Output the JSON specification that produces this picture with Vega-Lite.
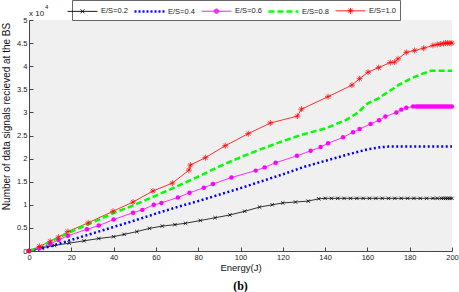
{
  "$schema": "https://vega.github.io/schema/vega-lite/v6.json",
  "width": 423,
  "height": 231,
  "autosize": "none",
  "padding": {"left": 29, "top": 20, "right": 7, "bottom": 41},
  "background": "white",
  "config": {"view": {"fill": "#f0f0f0", "stroke": null}, "font": "Liberation Sans"},
  "title": {"text": "(b)", "orient": "bottom", "font": "Liberation Serif", "fontWeight": "bold", "fontSize": 12, "color": "#000", "offset": 9},
  "datasets": {
    "d": [
      {"series": "E/S=0.2", "energy": 0, "signals": 0},
      {"series": "E/S=0.2", "energy": 6, "signals": 700},
      {"series": "E/S=0.2", "energy": 12, "signals": 1200},
      {"series": "E/S=0.2", "energy": 19, "signals": 1700},
      {"series": "E/S=0.2", "energy": 26, "signals": 2200},
      {"series": "E/S=0.2", "energy": 33, "signals": 2700},
      {"series": "E/S=0.2", "energy": 40, "signals": 3100},
      {"series": "E/S=0.2", "energy": 45, "signals": 3600},
      {"series": "E/S=0.2", "energy": 51, "signals": 4200},
      {"series": "E/S=0.2", "energy": 57, "signals": 4900},
      {"series": "E/S=0.2", "energy": 63, "signals": 5400},
      {"series": "E/S=0.2", "energy": 69, "signals": 5700},
      {"series": "E/S=0.2", "energy": 74, "signals": 6000},
      {"series": "E/S=0.2", "energy": 81, "signals": 6600},
      {"series": "E/S=0.2", "energy": 88, "signals": 7200},
      {"series": "E/S=0.2", "energy": 95, "signals": 7800},
      {"series": "E/S=0.2", "energy": 102, "signals": 8600},
      {"series": "E/S=0.2", "energy": 109, "signals": 9500},
      {"series": "E/S=0.2", "energy": 115, "signals": 10000},
      {"series": "E/S=0.2", "energy": 120, "signals": 10400},
      {"series": "E/S=0.2", "energy": 126, "signals": 10600},
      {"series": "E/S=0.2", "energy": 132, "signals": 10800},
      {"series": "E/S=0.2", "energy": 137, "signals": 11300},
      {"series": "E/S=0.2", "energy": 140, "signals": 11400},
      {"series": "E/S=0.2", "energy": 143, "signals": 11400},
      {"series": "E/S=0.2", "energy": 146, "signals": 11400},
      {"series": "E/S=0.2", "energy": 149, "signals": 11400},
      {"series": "E/S=0.2", "energy": 152, "signals": 11400},
      {"series": "E/S=0.2", "energy": 155, "signals": 11400},
      {"series": "E/S=0.2", "energy": 158, "signals": 11400},
      {"series": "E/S=0.2", "energy": 161, "signals": 11400},
      {"series": "E/S=0.2", "energy": 164, "signals": 11400},
      {"series": "E/S=0.2", "energy": 167, "signals": 11400},
      {"series": "E/S=0.2", "energy": 170, "signals": 11400},
      {"series": "E/S=0.2", "energy": 173, "signals": 11400},
      {"series": "E/S=0.2", "energy": 176, "signals": 11400},
      {"series": "E/S=0.2", "energy": 179, "signals": 11400},
      {"series": "E/S=0.2", "energy": 182, "signals": 11400},
      {"series": "E/S=0.2", "energy": 185, "signals": 11400},
      {"series": "E/S=0.2", "energy": 188, "signals": 11400},
      {"series": "E/S=0.2", "energy": 191, "signals": 11400},
      {"series": "E/S=0.2", "energy": 193, "signals": 11400},
      {"series": "E/S=0.2", "energy": 195, "signals": 11400},
      {"series": "E/S=0.2", "energy": 196, "signals": 11400},
      {"series": "E/S=0.2", "energy": 197, "signals": 11400},
      {"series": "E/S=0.2", "energy": 198, "signals": 11400},
      {"series": "E/S=0.2", "energy": 199, "signals": 11400},
      {"series": "E/S=0.2", "energy": 200, "signals": 11400},

      {"series": "E/S=0.4", "energy": 0, "signals": 0},
      {"series": "E/S=0.4", "energy": 5, "signals": 400},
      {"series": "E/S=0.4", "energy": 10, "signals": 1000},
      {"series": "E/S=0.4", "energy": 20, "signals": 2400},
      {"series": "E/S=0.4", "energy": 30, "signals": 3800},
      {"series": "E/S=0.4", "energy": 40, "signals": 5200},
      {"series": "E/S=0.4", "energy": 50, "signals": 6600},
      {"series": "E/S=0.4", "energy": 60, "signals": 8100},
      {"series": "E/S=0.4", "energy": 70, "signals": 9500},
      {"series": "E/S=0.4", "energy": 80, "signals": 10800},
      {"series": "E/S=0.4", "energy": 90, "signals": 12200},
      {"series": "E/S=0.4", "energy": 100, "signals": 13600},
      {"series": "E/S=0.4", "energy": 110, "signals": 15100},
      {"series": "E/S=0.4", "energy": 120, "signals": 16600},
      {"series": "E/S=0.4", "energy": 130, "signals": 18200},
      {"series": "E/S=0.4", "energy": 140, "signals": 19500},
      {"series": "E/S=0.4", "energy": 150, "signals": 20800},
      {"series": "E/S=0.4", "energy": 160, "signals": 22000},
      {"series": "E/S=0.4", "energy": 165, "signals": 22400},
      {"series": "E/S=0.4", "energy": 170, "signals": 22600},
      {"series": "E/S=0.4", "energy": 180, "signals": 22600},
      {"series": "E/S=0.4", "energy": 190, "signals": 22600},
      {"series": "E/S=0.4", "energy": 200, "signals": 22600},

      {"series": "E/S=0.6", "energy": 0, "signals": 0},
      {"series": "E/S=0.6", "energy": 5, "signals": 600},
      {"series": "E/S=0.6", "energy": 10, "signals": 1500},
      {"series": "E/S=0.6", "energy": 14, "signals": 2400},
      {"series": "E/S=0.6", "energy": 18.4, "signals": 3300},
      {"series": "E/S=0.6", "energy": 27.4, "signals": 4700},
      {"series": "E/S=0.6", "energy": 33, "signals": 5500},
      {"series": "E/S=0.6", "energy": 40, "signals": 6800},
      {"series": "E/S=0.6", "energy": 49.2, "signals": 8300},
      {"series": "E/S=0.6", "energy": 53.6, "signals": 8900},
      {"series": "E/S=0.6", "energy": 59, "signals": 10000},
      {"series": "E/S=0.6", "energy": 62.6, "signals": 10400},
      {"series": "E/S=0.6", "energy": 70.4, "signals": 11600},
      {"series": "E/S=0.6", "energy": 75.9, "signals": 12600},
      {"series": "E/S=0.6", "energy": 82.7, "signals": 13700},
      {"series": "E/S=0.6", "energy": 87, "signals": 14500},
      {"series": "E/S=0.6", "energy": 95.7, "signals": 15900},
      {"series": "E/S=0.6", "energy": 107.2, "signals": 17400},
      {"series": "E/S=0.6", "energy": 111.4, "signals": 18100},
      {"series": "E/S=0.6", "energy": 116.6, "signals": 19100},
      {"series": "E/S=0.6", "energy": 126.7, "signals": 20600},
      {"series": "E/S=0.6", "energy": 133.2, "signals": 21700},
      {"series": "E/S=0.6", "energy": 137.9, "signals": 22500},
      {"series": "E/S=0.6", "energy": 141.4, "signals": 23300},
      {"series": "E/S=0.6", "energy": 148.5, "signals": 24600},
      {"series": "E/S=0.6", "energy": 153.2, "signals": 25700},
      {"series": "E/S=0.6", "energy": 156.3, "signals": 26400},
      {"series": "E/S=0.6", "energy": 161.5, "signals": 27500},
      {"series": "E/S=0.6", "energy": 165.5, "signals": 28300},
      {"series": "E/S=0.6", "energy": 168.5, "signals": 29100},
      {"series": "E/S=0.6", "energy": 173.7, "signals": 30000},
      {"series": "E/S=0.6", "energy": 176, "signals": 30600},
      {"series": "E/S=0.6", "energy": 178.4, "signals": 31000},
      {"series": "E/S=0.6", "energy": 181.6, "signals": 31300},
      {"series": "E/S=0.6", "energy": 183, "signals": 31300},
      {"series": "E/S=0.6", "energy": 184, "signals": 31300},
      {"series": "E/S=0.6", "energy": 185, "signals": 31300},
      {"series": "E/S=0.6", "energy": 186, "signals": 31300},
      {"series": "E/S=0.6", "energy": 187, "signals": 31300},
      {"series": "E/S=0.6", "energy": 188, "signals": 31300},
      {"series": "E/S=0.6", "energy": 189, "signals": 31300},
      {"series": "E/S=0.6", "energy": 190, "signals": 31300},
      {"series": "E/S=0.6", "energy": 191, "signals": 31300},
      {"series": "E/S=0.6", "energy": 192, "signals": 31300},
      {"series": "E/S=0.6", "energy": 193, "signals": 31300},
      {"series": "E/S=0.6", "energy": 194, "signals": 31300},
      {"series": "E/S=0.6", "energy": 195, "signals": 31300},
      {"series": "E/S=0.6", "energy": 196, "signals": 31300},
      {"series": "E/S=0.6", "energy": 197, "signals": 31300},
      {"series": "E/S=0.6", "energy": 198, "signals": 31300},
      {"series": "E/S=0.6", "energy": 199, "signals": 31300},
      {"series": "E/S=0.6", "energy": 200, "signals": 31300},

      {"series": "E/S=0.8", "energy": 0, "signals": 0},
      {"series": "E/S=0.8", "energy": 5, "signals": 800},
      {"series": "E/S=0.8", "energy": 10, "signals": 2000},
      {"series": "E/S=0.8", "energy": 20, "signals": 4200},
      {"series": "E/S=0.8", "energy": 30, "signals": 6200},
      {"series": "E/S=0.8", "energy": 40, "signals": 8200},
      {"series": "E/S=0.8", "energy": 50, "signals": 10000},
      {"series": "E/S=0.8", "energy": 60, "signals": 12000},
      {"series": "E/S=0.8", "energy": 70, "signals": 14000},
      {"series": "E/S=0.8", "energy": 80, "signals": 16100},
      {"series": "E/S=0.8", "energy": 90, "signals": 18300},
      {"series": "E/S=0.8", "energy": 100, "signals": 20300},
      {"series": "E/S=0.8", "energy": 110, "signals": 22100},
      {"series": "E/S=0.8", "energy": 120, "signals": 23800},
      {"series": "E/S=0.8", "energy": 130, "signals": 25300},
      {"series": "E/S=0.8", "energy": 140, "signals": 26500},
      {"series": "E/S=0.8", "energy": 150, "signals": 28400},
      {"series": "E/S=0.8", "energy": 155, "signals": 29800},
      {"series": "E/S=0.8", "energy": 160, "signals": 31900},
      {"series": "E/S=0.8", "energy": 165, "signals": 33000},
      {"series": "E/S=0.8", "energy": 170, "signals": 34500},
      {"series": "E/S=0.8", "energy": 175, "signals": 36000},
      {"series": "E/S=0.8", "energy": 180, "signals": 37200},
      {"series": "E/S=0.8", "energy": 185, "signals": 38200},
      {"series": "E/S=0.8", "energy": 190, "signals": 39000},
      {"series": "E/S=0.8", "energy": 200, "signals": 39000},

      {"series": "E/S=1.0", "energy": 0, "signals": 0},
      {"series": "E/S=1.0", "energy": 5, "signals": 1000},
      {"series": "E/S=1.0", "energy": 10, "signals": 2100},
      {"series": "E/S=1.0", "energy": 14, "signals": 3000},
      {"series": "E/S=1.0", "energy": 18.4, "signals": 4200},
      {"series": "E/S=1.0", "energy": 28, "signals": 6100},
      {"series": "E/S=1.0", "energy": 39.7, "signals": 8600},
      {"series": "E/S=1.0", "energy": 49.2, "signals": 10600},
      {"series": "E/S=1.0", "energy": 58.6, "signals": 13000},
      {"series": "E/S=1.0", "energy": 67.8, "signals": 14700},
      {"series": "E/S=1.0", "energy": 75.6, "signals": 17500},
      {"series": "E/S=1.0", "energy": 76.3, "signals": 18600},
      {"series": "E/S=1.0", "energy": 83.4, "signals": 20200},
      {"series": "E/S=1.0", "energy": 92.8, "signals": 22800},
      {"series": "E/S=1.0", "energy": 103.7, "signals": 25400},
      {"series": "E/S=1.0", "energy": 114.1, "signals": 27700},
      {"series": "E/S=1.0", "energy": 126.9, "signals": 29200},
      {"series": "E/S=1.0", "energy": 128.8, "signals": 30700},
      {"series": "E/S=1.0", "energy": 141.4, "signals": 33400},
      {"series": "E/S=1.0", "energy": 152.7, "signals": 35900},
      {"series": "E/S=1.0", "energy": 156.3, "signals": 37300},
      {"series": "E/S=1.0", "energy": 160.3, "signals": 38700},
      {"series": "E/S=1.0", "energy": 165.3, "signals": 39700},
      {"series": "E/S=1.0", "energy": 170.8, "signals": 40800},
      {"series": "E/S=1.0", "energy": 172.9, "signals": 40900},
      {"series": "E/S=1.0", "energy": 174.5, "signals": 41600},
      {"series": "E/S=1.0", "energy": 178.4, "signals": 43000},
      {"series": "E/S=1.0", "energy": 182.3, "signals": 43400},
      {"series": "E/S=1.0", "energy": 186.6, "signals": 43900},
      {"series": "E/S=1.0", "energy": 191, "signals": 44500},
      {"series": "E/S=1.0", "energy": 193, "signals": 44700},
      {"series": "E/S=1.0", "energy": 194.5, "signals": 44800},
      {"series": "E/S=1.0", "energy": 196, "signals": 44900},
      {"series": "E/S=1.0", "energy": 197, "signals": 45000},
      {"series": "E/S=1.0", "energy": 198, "signals": 45000},
      {"series": "E/S=1.0", "energy": 199, "signals": 45000},
      {"series": "E/S=1.0", "energy": 200, "signals": 45000}
    ],
    "note": [{"energy": 0, "signals": 50000}]
  },
  "data": {"name": "d"},
  "encoding": {
    "x": {
      "field": "energy", "type": "quantitative",
      "scale": {"domain": [0, 200], "nice": false},
      "axis": {
        "values": [0, 20, 40, 60, 80, 100, 120, 140, 160, 180, 200],
        "tickSize": -4, "labelPadding": 6, "labelFontSize": 7.5, "labelColor": "#222",
        "tickColor": "#444", "domainColor": "#444", "grid": false, "labelFlush": false,
        "title": "Energy(J)", "titleFontSize": 9.5, "titleFontWeight": "normal", "titleColor": "#111", "titlePadding": 2
      }
    },
    "y": {
      "field": "signals", "type": "quantitative",
      "scale": {"domain": [0, 50000], "nice": false},
      "axis": {
        "values": [0, 5000, 10000, 15000, 20000, 25000, 30000, 35000, 40000, 45000, 50000],
        "labelExpr": "datum.value / 10000",
        "tickSize": -4, "labelPadding": 6, "labelFontSize": 7.5, "labelColor": "#222",
        "tickColor": "#444", "domainColor": "#444", "grid": false, "labelFlush": false,
        "title": "Number of data signals recieved at the BS", "titleFontSize": 10, "titleFontWeight": "normal", "titleColor": "#111",
        "titleX": -18, "titleY": 96, "titleAlign": "center", "titleBaseline": "bottom", "titleAngle": -90
      }
    }
  },
  "layer": [
    {
      "transform": [{"filter": "datum.series == 'E/S=0.2' || datum.series == 'E/S=0.6' || datum.series == 'E/S=1.0'"}],
      "mark": {"type": "line", "strokeWidth": 0.8},
      "encoding": {
        "color": {"field": "series", "type": "nominal",
          "scale": {"range": ["#000000", "#0000ff", "#ff00ff", "#00ff00", "#ff0000"]},
          "legend": null}
      }
    },
    {
      "transform": [{"filter": "datum.series == 'E/S=0.4'"}],
      "mark": {"type": "line", "strokeWidth": 2.5, "strokeDash": [2, 2.5]},
      "encoding": {"color": {"field": "series", "type": "nominal", "legend": null}}
    },
    {
      "transform": [{"filter": "datum.series == 'E/S=0.8'"}],
      "mark": {"type": "line", "strokeWidth": 2.5, "strokeDash": [6, 3]},
      "encoding": {"color": {"field": "series", "type": "nominal", "legend": null}}
    },
    {
      "transform": [{"filter": "datum.series == 'E/S=0.2'"}],
      "mark": {"type": "point", "shape": "M-1,-1L1,1M-1,1L1,-1", "size": 12, "filled": false, "stroke": "#000000", "strokeWidth": 0.8, "opacity": 1}
    },
    {
      "transform": [{"filter": "datum.series == 'E/S=0.6'"}],
      "mark": {"type": "point", "shape": "circle", "size": 20, "filled": true, "fill": "#ff00ff", "opacity": 1}
    },
    {
      "transform": [{"filter": "datum.series == 'E/S=1.0'"}],
      "mark": {"type": "point", "shape": "M-1,0L1,0M0,-1L0,1M-0.7,-0.7L0.7,0.7M-0.7,0.7L0.7,-0.7", "size": 36, "filled": false, "stroke": "#ff0000", "strokeWidth": 0.7, "opacity": 1}
    },
    {
      "mark": {"type": "point", "filled": false, "size": 144, "opacity": 0, "strokeWidth": 0.9},
      "encoding": {
        "stroke": {
          "field": "series", "type": "nominal",
          "scale": {
            "domain": ["E/S=0.2", "E/S=0.4", "E/S=0.6", "E/S=0.8", "E/S=1.0"],
            "range": ["#000000", "#0000ff", "#ff00ff", "#00ff00", "#ff0000"]
          },
          "legend": {
            "orient": "none", "legendX": 43, "legendY": -20, "direction": "horizontal", "columns": 5,
            "title": null, "symbolSize": 144, "labelFontSize": 7.5, "labelColor": "#222",
            "labelOffset": 12, "columnPadding": 4, "padding": 4, "strokeColor": "#666", "fillColor": "white",
            "symbolOpacity": 1, "symbolStrokeWidth": 0.9
          }
        },
        "shape": {
          "field": "series", "type": "nominal",
          "scale": {
            "domain": ["E/S=0.2", "E/S=0.4", "E/S=0.6", "E/S=0.8", "E/S=1.0"],
            "range": [
              "M-2.5,0L2.5,0M-0.33,-0.33L0.33,0.33M-0.33,0.33L0.33,-0.33",
              "M-2.5,-0.13L-2.167,-0.13M-2.5,0L-2.167,0M-2.5,0.13L-2.167,0.13M-1.833,-0.13L-1.5,-0.13M-1.833,0L-1.5,0M-1.833,0.13L-1.5,0.13M-1.167,-0.13L-0.833,-0.13M-1.167,0L-0.833,0M-1.167,0.13L-0.833,0.13M-0.5,-0.13L-0.167,-0.13M-0.5,0L-0.167,0M-0.5,0.13L-0.167,0.13M0.167,-0.13L0.5,-0.13M0.167,0L0.5,0M0.167,0.13L0.5,0.13M0.833,-0.13L1.167,-0.13M0.833,0L1.167,0M0.833,0.13L1.167,0.13M1.5,-0.13L1.833,-0.13M1.5,0L1.833,0M1.5,0.13L1.833,0.13M2.167,-0.13L2.5,-0.13M2.167,0L2.5,0M2.167,0.13L2.5,0.13",
              "M-2.5,0L2.5,0M0.38,0L0.27,0.27L0,0.38L-0.27,0.27L-0.38,0L-0.27,-0.27L0,-0.38L0.27,-0.27ZM0.25,0L0.18,0.18L0,0.25L-0.18,0.18L-0.25,0L-0.18,-0.18L0,-0.25L0.18,-0.18ZM0.12,0L0,0.12L-0.12,0L0,-0.12Z",
              "M-2.5,-0.13L-1.5,-0.13M-2.5,0L-1.5,0M-2.5,0.13L-1.5,0.13M-1,-0.13L0,-0.13M-1,0L0,0M-1,0.13L0,0.13M0.5,-0.13L1.5,-0.13M0.5,0L1.5,0M0.5,0.13L1.5,0.13M2,-0.13L2.5,-0.13M2,0L2.5,0M2,0.13L2.5,0.13",
              "M-2.5,0L2.5,0M-0.5,0L0.5,0M0,-0.5L0,0.5M-0.35,-0.35L0.35,0.35M-0.35,0.35L0.35,-0.35"
            ]
          },
          "legend": {
            "orient": "none", "legendX": 43, "legendY": -20, "direction": "horizontal", "columns": 5,
            "title": null, "symbolSize": 144, "labelFontSize": 7.5, "labelColor": "#222",
            "labelOffset": 12, "columnPadding": 4, "padding": 4, "strokeColor": "#666", "fillColor": "white",
            "symbolOpacity": 1, "symbolStrokeWidth": 0.9
          }
        }
      }
    },
    {
      "data": {"name": "note"},
      "mark": {"type": "text", "text": "x 10", "align": "left", "baseline": "alphabetic", "dx": 0, "dy": -4, "fontSize": 8, "color": "#222"}
    },
    {
      "data": {"name": "note"},
      "mark": {"type": "text", "text": "4", "align": "left", "baseline": "alphabetic", "dx": 16, "dy": -11, "fontSize": 6, "color": "#222"}
    }
  ]
}
